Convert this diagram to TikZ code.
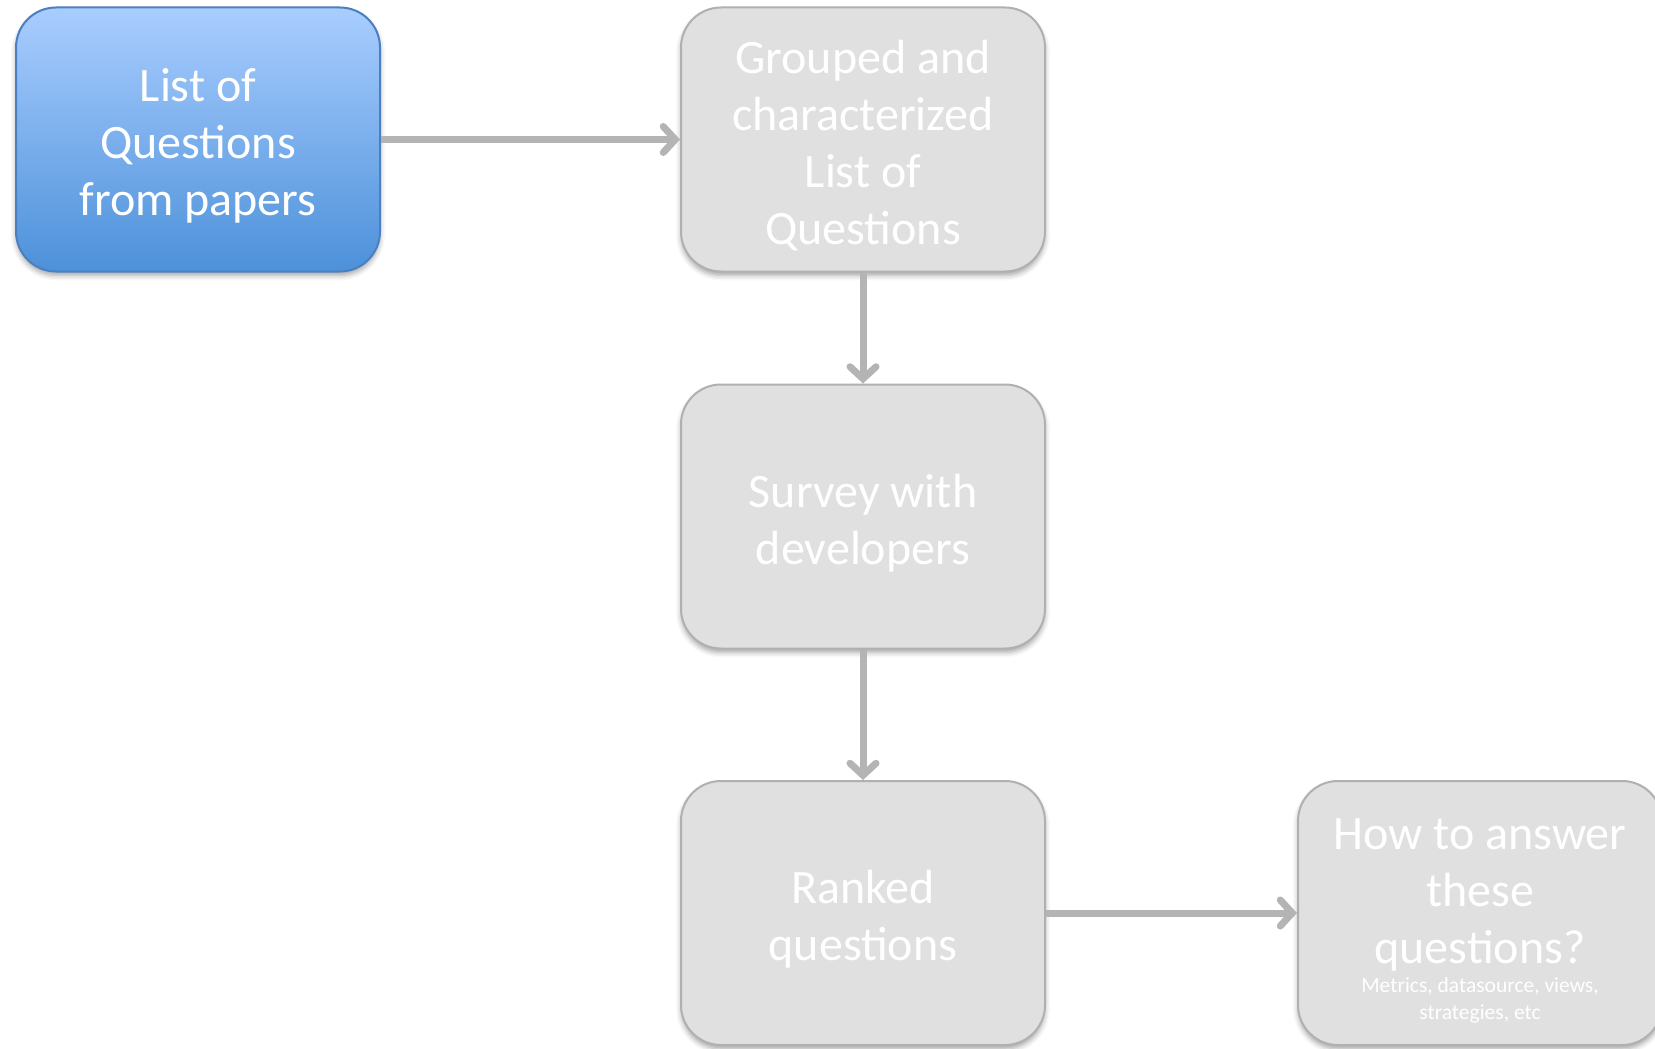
\documentclass[tikz,border=0pt]{standalone}
\usepackage{fontspec}
\setmainfont{Carlito}
\usepackage{tikz}
\usetikzlibrary{arrows.meta,shadows.blur,positioning}

\definecolor{boxgray}{HTML}{E0E0E0}
\definecolor{boxline}{HTML}{B0B0B0}
\definecolor{arrowgray}{HTML}{B4B4B4}
\definecolor{bluetop}{HTML}{A9CDFF}
\definecolor{bluebot}{HTML}{4D91DA}
\definecolor{blueline}{HTML}{4A80C0}
\newcommand{\boxfont}{\fontsize{48}{57}\selectfont}
\newcommand{\notefont}{\fontsize{21.5}{27}\selectfont}
\newcommand{\toplift}[1][46pt]{\rule{0pt}{#1}}

\begin{document}
\begin{tikzpicture}[x=1pt,y=-1pt,
  stepbox/.style={draw=boxline,line width=2pt,fill=boxgray,rounded corners=40pt,
    minimum width=364pt,minimum height=264pt,inner sep=0pt,align=center,
    text=white,font=\boxfont,
    blur shadow={shadow xshift=0pt,shadow yshift=-4pt,shadow blur radius=5pt,shadow opacity=35}},
  startbox/.style={stepbox,draw=blueline,top color=bluetop,bottom color=bluebot},
  flow/.style={draw=arrowgray,line width=7pt,
    -{Straight Barb[length=12pt,width=26pt,line cap=round]}}]
\useasboundingbox (0,0) rectangle (1655,1049);

\node[startbox] (papers) at (198,139.5) {\toplift List of\\Questions\\from papers};
\node[stepbox] (grouped) at (863,139.5) {\toplift Grouped and\\characterized\\List of\\Questions};
\node[stepbox] (survey) at (863,516.5) {\toplift Survey with\\developers};
\node[stepbox] (ranked) at (863,913) {\toplift Ranked\\questions};
\node[stepbox] (answer) at (1480,913)
  {\toplift[47pt]How to answer\\these\\questions?\\[-28pt]{\notefont Metrics, datasource, views,}\\[-30pt]{\notefont strategies, etc}};

\draw[flow] (papers.east) -- (grouped.west);
\draw[flow] (grouped.south) -- (survey.north);
\draw[flow] (survey.south) -- (ranked.north);
\draw[flow] (ranked.east) -- (answer.west);
\end{tikzpicture}
\end{document}
